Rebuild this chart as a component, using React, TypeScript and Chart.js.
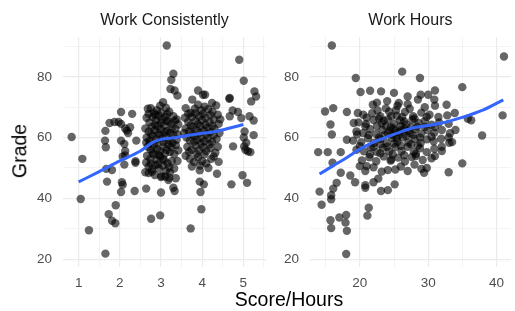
import React, { useEffect, useRef } from "react";
import { Chart, registerables } from "chart.js";

Chart.register(...registerables);

// ---------- data ----------
const PANEL_TITLES = ["Work Consistently", "Work Hours"];
const Y_TITLE = "Grade";
const X_TITLE = "Score/Hours";

const Y_TICKS = [20, 30, 40, 50, 60, 70, 80, 90];
const Y_MAJOR = [20, 40, 60, 80];
const X1_TICKS = [1, 1.5, 2, 2.5, 3, 3.5, 4, 4.5, 5, 5.5];
const X1_MAJOR = [1, 2, 3, 4, 5];
const X2_TICKS = [15, 20, 25, 30, 35, 40];
const X2_MAJOR = [20, 30, 40];

const consistencyPoints: number[][] = [
  [0.83, 60.2], [1.09, 53], [1.05, 39.8], [1.25, 29.5], [1.65, 21.8],
  [1.65, 62.2], [1.64, 59], [1.66, 56.8], [1.75, 64.8], [1.87, 65.1], [1.97, 65.1], [2.03, 64.5], [2.03, 68.4], [2.3, 67.8],
  [2.03, 59], [2.11, 57.9], [2.2, 61.5], [2.13, 63], [2.25, 63.4], [2.4, 59], [2.13, 55.6], [2.17, 62.3], [2.07, 53.8],
  [1.69, 45.5], [2.05, 45.3], [2.07, 44.5], [2.03, 42.1], [2.36, 42.4], [2.11, 51.1], [2.13, 54.1], [2.38, 52.2], [1.81, 49.3],
  [1.67, 49.7], [1.73, 34.8], [1.81, 32.6], [1.89, 31.8], [1.9, 37.7], [2.38, 51.7],
  [2.64, 43.2], [2.62, 48.6], [3.0, 41.9], [2.76, 33.3], [2.98, 34.4],
  [3.14, 90.3], [3.3, 81], [3.25, 79], [3.23, 76], [3.33, 75.5], [3.4, 73.8],
  [3.3, 43.5], [3.33, 42.4], [3.36, 46.6], [3.2, 46.8], [3.01, 47.3],
  [3.72, 30.1], [3.98, 36.4], [3.96, 42.1], [3.94, 45.5], [4.04, 44.6], [3.94, 49.2], [4.36, 48.1],
  [3.9, 75.5], [4.02, 74.1], [4.07, 74.1], [4.24, 71.4], [4.34, 70.6], [3.76, 72.5],
  [4.67, 73], [4.71, 44.6], [4.75, 57.1], [4.67, 67], [4.9, 85.6], [5.01, 78.7], [4.98, 47.6], [5.09, 45.1], [5.17, 55.2],
  [5.05, 56], [5.02, 57.1], [5.27, 75.2], [5.31, 73.5], [5.19, 71.9], [4.74, 68.9], [4.87, 68.4], [4.66, 72.8], [5.15, 67],
  [5.25, 65.6], [4.95, 66.4], [5.03, 62], [5.25, 60.8], [5.01, 60], [5.07, 58.3], [5.11, 55.5],
  // cluster around 3
  [2.68, 69.5], [2.75, 69.7], [2.82, 68.2], [2.9, 69], [2.98, 70.5], [3.05, 71.6], [3.12, 69.8], [3.2, 68.5], [3.3, 67], [3.38, 66], [3.42, 64.3],
  [2.65, 66.5], [2.72, 65], [2.8, 66.8], [2.88, 65.8], [2.95, 67.2], [3.02, 66], [3.1, 66.8], [3.18, 65.3], [3.25, 64.5], [3.35, 62.8],
  [2.62, 63], [2.7, 62], [2.78, 63.5], [2.85, 62.5], [2.92, 63.8], [3.0, 62.7], [3.08, 64], [3.15, 62.2], [3.22, 61.5], [3.3, 60.8], [3.4, 61],
  [2.65, 60], [2.72, 59], [2.8, 60.5], [2.88, 59.4], [2.96, 60.8], [3.04, 59.8], [3.12, 60.5], [3.2, 59], [3.28, 58.2], [3.36, 57.5],
  [2.68, 57], [2.75, 56], [2.83, 57.5], [2.9, 56.2], [2.98, 55.5], [3.06, 57], [3.14, 56], [3.22, 55.2], [3.32, 54.5], [3.42, 55.8],
  [2.66, 54], [2.74, 53], [2.82, 54.5], [2.9, 52.8], [2.98, 53.8], [3.08, 52.5], [3.16, 51.5], [3.26, 52.2], [3.4, 52.3],
  [2.7, 50.5], [2.78, 49.5], [2.86, 51], [2.95, 49.8], [3.04, 50.8], [3.12, 49], [3.22, 48.5], [3.32, 49.8],
  [2.7, 48.3], [2.85, 47.7], [3.0, 47], [3.1, 47.2], [3.18, 46],
  [2.7, 67.8], [2.86, 67.5], [3.0, 68.2], [3.15, 67.8], [2.76, 61], [2.94, 61.5], [3.1, 61.8], [3.26, 63], [2.72, 58], [2.9, 58],
  [3.06, 58.5], [3.18, 57.8], [2.8, 55], [2.95, 54.2], [3.1, 54.8], [3.25, 56.8], [2.75, 51.5], [2.92, 51.2], [3.05, 53], [3.2, 50.2],
  [2.64, 58.3], [2.64, 51.8], [3.38, 59.3], [3.34, 65.5], [2.86, 64.2], [3.0, 64.8], [2.78, 48.7], [3.14, 65.5],
  // cluster around 4
  [3.6, 69.7], [3.72, 68.1], [3.82, 69.5], [3.9, 70.8], [3.98, 69], [4.06, 70.2], [4.15, 69.3], [4.25, 68.5], [4.38, 67.5],
  [3.58, 66.5], [3.66, 65.2], [3.75, 66.8], [3.84, 65.5], [3.92, 67], [4.0, 65.8], [4.08, 66.5], [4.18, 65], [4.28, 66], [4.4, 64.5],
  [3.6, 63], [3.68, 62], [3.78, 63.5], [3.86, 62.5], [3.95, 63.8], [4.04, 62.3], [4.12, 63.2], [4.2, 61.8], [4.3, 62.8], [4.42, 61.5],
  [3.62, 60], [3.7, 59], [3.8, 60.5], [3.88, 59.2], [3.97, 60], [4.05, 58.8], [4.14, 59.8], [4.24, 58.6], [4.35, 59.5],
  [3.64, 57], [3.74, 56], [3.84, 57.3], [3.92, 55.8], [4.02, 56.8], [4.1, 55.5], [4.2, 56.5], [4.32, 55],
  [3.6, 54], [3.7, 53], [3.8, 52], [3.9, 53.5], [4.0, 52.2], [4.1, 51.5], [4.22, 53], [4.4, 52],
  [3.75, 50.5], [3.95, 50.8], [4.15, 50],
  [3.66, 67.8], [3.84, 68], [4.02, 67.8], [4.2, 67.4], [3.72, 64], [3.9, 64.5], [4.08, 64.2], [4.25, 63.8], [3.76, 61.2],
  [3.94, 61.6], [4.1, 61], [4.28, 60.8], [3.8, 58.6], [3.98, 58], [4.18, 57.8], [3.68, 55.3], [3.86, 54.6], [4.05, 54.5],
  [4.28, 53.8], [4.38, 57], [3.56, 61.5], [4.44, 66],
];

const hoursPoints: number[][] = [
  [15.9, 90.3], [19.4, 79.6], [26.2, 81.7], [28.8, 79.6], [35.0, 76.6], [41.1, 86.7], [40.9, 67.3], [37.9, 60.7], [36.3, 65.7],
  [35.8, 66.2], [35.0, 51.5], [33.0, 48.6],
  [14.9, 68.6], [16.1, 69.7], [13.9, 55.2], [15.3, 55.2], [17.2, 55.2], [14.1, 42.2], [14.4, 37.9], [15.7, 64.3], [15.9, 61],
  [15.8, 39.7], [15.8, 41], [15.7, 32.8], [15.8, 30.2], [17.0, 33.7], [18.0, 34.5], [17.9, 32], [18.1, 29.3], [18.0, 21.7],
  [21.3, 36.9], [21.1, 34.3],
  [16.1, 43.2], [16.6, 45.1], [17.2, 48.4], [16.0, 51.7], [18.6, 47.5], [19.3, 45.3], [20.8, 44.3], [20.8, 43.5], [22.0, 45.3],
  [22.7, 46.5], [23.1, 42.4], [24.1, 42.7], [25.1, 44.6], [24.1, 49.3], [25.2, 49.5], [24.6, 52.8], [21.0, 50.6], [20.0, 50.6],
  [20.1, 75], [21.5, 75.4], [23.1, 75.2], [25, 74.7], [27, 73.5], [21.9, 70.8], [22.6, 68.9], [25.7, 71.4], [18.1, 68.4],
  [19.7, 68.1], [19.1, 64.8], [20.8, 63.7], [18.1, 59.3], [19.6, 61],
  [28.9, 74.1], [30, 74.1], [31, 75.5], [32.7, 70.8], [33.9, 68.1], [30.9, 72.5],
  [29.4, 48.4], [29.0, 49.7], [31.0, 53.9], [28.0, 51.1], [28.2, 53.9], [33, 60], [32, 57], [33.5, 58.5], [34, 62.5],
  // dense cloud
  [22.5, 71.5], [24, 72], [25.5, 70.5], [27, 71], [28.5, 72.5], [29.5, 70], [31, 70.5],
  [20.5, 67.5], [21.8, 68], [23, 67], [24.3, 68.5], [25.4, 67.2], [26.6, 68.4], [27.8, 67], [29, 68.2], [30.2, 67.5], [31.5, 66.8], [32.8, 67.3],
  [19.8, 65], [20.9, 64.5], [22, 65.8], [23.2, 64.7], [24.1, 66], [25, 64.5], [25.9, 65.6], [26.8, 64.3], [27.7, 65.9], [28.6, 64.8],
  [29.5, 65.5], [30.5, 64.2], [31.6, 65], [33, 64.5],
  [19.5, 62], [20.5, 61.5], [21.5, 62.8], [22.4, 61.2], [23.3, 62.5], [24.1, 61.4], [24.9, 63], [25.7, 61.8], [26.5, 62.9],
  [27.3, 61.5], [28.1, 62.7], [29, 61.3], [29.9, 62.4], [30.9, 61.6], [32, 62.5], [33.2, 61.4],
  [19, 59], [20.2, 58.5], [21.2, 59.8], [22.1, 58.3], [23, 59.5], [23.9, 58.2], [24.7, 59.9], [25.5, 58.6], [26.3, 60],
  [27.1, 58.4], [28, 59.6], [28.9, 58.2], [29.8, 59.4], [30.8, 58.8], [31.9, 59.6], [33.1, 58.3],
  [19.5, 56], [20.6, 55.5], [21.6, 56.8], [22.5, 55.2], [23.4, 56.6], [24.3, 55.4], [25.2, 56.9], [26.1, 55.6], [27, 57],
  [27.9, 55.3], [28.8, 56.5], [29.8, 55.2], [30.9, 56.3], [32, 55.6],
  [20.3, 52.5], [21.4, 53.5], [22.4, 52.2], [23.5, 53.8], [24.5, 52.4], [25.6, 53.4], [26.6, 52.1], [27.6, 53.6], [29.2, 52.6], [30.5, 53.2],
  [20.8, 49], [22, 50.2], [23.2, 48.8], [26, 50.5], [27, 49], [29.8, 50],
  [24.5, 63.5], [25.2, 62.2], [26, 63.8], [24.8, 60.8], [25.8, 61], [26.8, 60.5], [23.8, 63.8], [27.5, 63.5],
  [21, 66.5], [22.8, 66.3], [24.6, 67], [26.2, 66.8], [28, 66.3], [29.8, 66.8], [21.3, 60.8], [22.8, 60], [23.6, 60.8],
  [24.4, 62.3], [25.4, 59.8], [26, 62.5], [27, 62.2], [27.8, 60.8], [28.8, 60], [29.5, 63.5], [30.5, 60.3], [22, 57],
  [23, 57.8], [24, 57], [25, 58], [26, 57.3], [27.5, 57.8], [28.5, 57.3], [21.5, 54.5], [23, 54.8], [24.8, 54.5], [26.5, 54.2],
  [28.2, 54.6], [22.5, 63.8], [23.5, 65.5], [26.5, 65.3], [28.4, 63.6], [31, 63.5], [20, 57.2], [25.3, 69], [27.3, 69.5], [23.8, 69.6],
];

const consistencySmooth: number[][] = [
  [1.0, 45.4], [1.5, 48.8], [2.0, 52.3], [2.5, 55.6], [2.8, 58.4], [3.0, 59.4], [3.3, 59.9],
  [3.6, 60.6], [4.0, 61.4], [4.3, 61.9], [4.6, 62.9], [5.0, 64.3],
];

const hoursSmooth: number[][] = [
  [14.1, 48.0], [16, 50.6], [18, 53.3], [20, 56.2], [22, 58.5], [24, 60.2], [26, 61.9], [28, 63.3],
  [30, 64.0], [32, 64.8], [34, 66.0], [36, 67.4], [38, 69.0], [41, 72.4],
];

// ---------- styling ----------
const FONT = "'Liberation Sans', Arial, Helvetica, sans-serif";
const GRID = "#EBEBEB";
const TICK_COLOR = "#4D4D4D";
const POINT_COLOR = "rgba(0,0,0,0.6)";
const LINE_COLOR = "#3366FF";

type PanelCfg = {
  title: string;
  points: number[][];
  smooth: number[][];
  xMin: number;
  xMax: number;
  xTicks: number[];
  xMajor: number[];
  yAxisWidth: number;
  padRight: number;
};

function makeChart(canvas: HTMLCanvasElement, cfg: PanelCfg) {
  const gridWidth = (major: number[]) => (ctx: any) =>
    ctx.tick && major.includes(ctx.tick.value) ? 1.2 : 0.6;
  return new Chart(canvas, {
    type: "scatter",
    data: {
      datasets: [
        {
          data: cfg.smooth.map(([x, y]) => ({ x, y })),
          showLine: true,
          borderColor: LINE_COLOR,
          borderWidth: 3,
          pointRadius: 0,
          cubicInterpolationMode: "monotone",
          fill: false,
        } as any,
        {
          data: cfg.points.map(([x, y]) => ({ x, y })),
          backgroundColor: POINT_COLOR,
          borderWidth: 0,
          pointRadius: 4.2,
        },
      ],
    },
    options: {
      animation: false,
      responsive: false,
      layout: { padding: { left: 0, right: cfg.padRight, top: 0, bottom: 0 } },
      plugins: {
        legend: { display: false },
        tooltip: { enabled: false },
        title: {
          display: true,
          fullSize: false,
          text: cfg.title,
          color: "#1A1A1A",
          font: { family: FONT, size: 16, weight: "normal" as any },
          padding: { top: 11, bottom: 6.8 },
        },
      },
      scales: {
        x: {
          type: "linear",
          min: cfg.xMin,
          max: cfg.xMax,
          afterBuildTicks: (s: any) => {
            s.ticks = cfg.xTicks.map((v) => ({ value: v }));
          },
          afterFit: (s: any) => {
            s.height = 44;
          },
          ticks: {
            autoSkip: false,
            maxRotation: 0,
            padding: 8,
            color: TICK_COLOR,
            font: { family: FONT, size: 13.5 },
            callback: (v: any) => (cfg.xMajor.includes(Number(v)) ? String(v) : ""),
          },
          grid: { color: GRID, lineWidth: gridWidth(cfg.xMajor) as any, drawTicks: false },
          border: { display: false },
        },
        y: {
          type: "linear",
          min: 17.4,
          max: 93.1,
          afterBuildTicks: (s: any) => {
            s.ticks = Y_TICKS.map((v) => ({ value: v }));
          },
          afterFit: (s: any) => {
            s.width = cfg.yAxisWidth;
          },
          ticks: {
            autoSkip: false,
            padding: 11,
            color: TICK_COLOR,
            font: { family: FONT, size: 13.5 },
            callback: (v: any) => (Y_MAJOR.includes(Number(v)) ? String(v) : ""),
          },
          grid: { color: GRID, lineWidth: gridWidth(Y_MAJOR) as any, drawTicks: false },
          border: { display: false },
        },
      },
    },
  });
}

export default function App() {
  const ref1 = useRef<HTMLCanvasElement>(null);
  const ref2 = useRef<HTMLCanvasElement>(null);

  useEffect(() => {
    const c1 = makeChart(ref1.current!, {
      title: PANEL_TITLES[0],
      points: consistencyPoints,
      smooth: consistencySmooth,
      xMin: 0.62,
      xMax: 5.55,
      xTicks: X1_TICKS,
      xMajor: X1_MAJOR,
      yAxisWidth: 63,
      padRight: 2,
    });
    const c2 = makeChart(ref2.current!, {
      title: PANEL_TITLES[1],
      points: hoursPoints,
      smooth: hoursSmooth,
      xMin: 12.7,
      xMax: 42.1,
      xTicks: X2_TICKS,
      xMajor: X2_MAJOR,
      yAxisWidth: 38,
      padRight: 0,
    });
    return () => {
      c1.destroy();
      c2.destroy();
    };
  }, []);

  return (
    <div
      style={{
        position: "absolute",
        left: 0,
        top: 0,
        width: 515,
        height: 311,
        background: "#fff",
        overflow: "hidden",
        fontFamily: FONT,
      }}
    >
      <canvas
        ref={ref1}
        width={272}
        height={311}
        style={{ position: "absolute", left: 0, top: 0, width: 272, height: 311 }}
      />
      <canvas
        ref={ref2}
        width={243}
        height={311}
        style={{ position: "absolute", left: 272, top: 0, width: 243, height: 311 }}
      />
      <div
        style={{
          position: "absolute",
          left: 20,
          top: 151,
          transform: "translate(-50%, -50%) rotate(-90deg)",
          fontSize: 19.5,
          lineHeight: 1,
          whiteSpace: "nowrap",
          color: "#000",
        }}
      >
        {Y_TITLE}
      </div>
      <div
        style={{
          position: "absolute",
          left: 289,
          top: 300,
          transform: "translate(-50%, -50%)",
          fontSize: 19.5,
          lineHeight: 1,
          whiteSpace: "nowrap",
          color: "#000",
        }}
      >
        {X_TITLE}
      </div>
    </div>
  );
}
